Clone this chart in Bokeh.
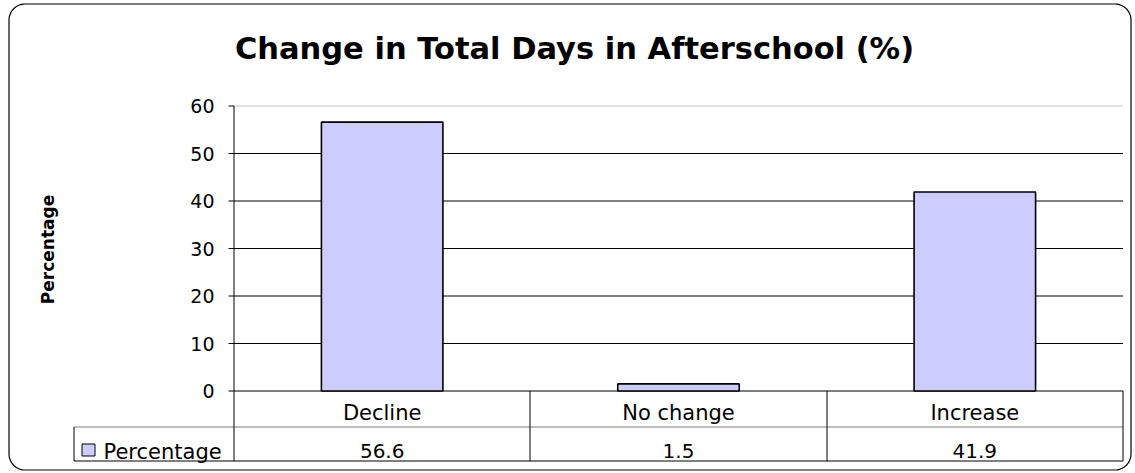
import numpy as np
from bokeh.plotting import figure
from bokeh.models import Range1d
from bokeh.core.properties import value
from bokeh.embed import file_html
from bokeh.resources import INLINE

# ---- data ----
title_text = "Change in Total Days in Afterschool (%)"
series_name = "Percentage"
categories = ["Decline", "No change", "Increase"]
values = [56.6, 1.5, 41.9]
value_labels = ["56.6", "1.5", "41.9"]
y_ticks = [0, 10, 20, 30, 40, 50, 60]

# ---- layout (pixel geometry of the chart area) ----
W, H = 1135, 473
FONT = value("DejaVu Sans")
BAR = "#CCCCFF"
N = len(categories)
PLOT_L, PLOT_R, Y0_PX = 233.5, 1122.5, 390.5
PX_PER_CAT = (PLOT_R - PLOT_L) / N
PX_PER_UNIT = 4.75
ROW1, ROW2 = 426.5, 460.5
TABLE_L = 73.5


def dx(px):
    return (px - PLOT_L) / PX_PER_CAT


def dy(py):
    return (Y0_PX - py) / PX_PER_UNIT


p = figure(width=W, height=H,
           x_range=Range1d(dx(0), dx(W)), y_range=Range1d(dy(H), dy(0)),
           output_backend="svg", toolbar_location=None,
           x_axis_location=None, y_axis_location=None,
           min_border=0, outline_line_color=None,
           background_fill_color="white", border_fill_color="white")
p.grid.visible = False

xs = [i + 0.5 for i in range(N)]
ymax = max(y_ticks)

# horizontal gridlines
grid_ticks = [t for t in y_ticks if t < ymax]
p.segment(x0=[0] * len(grid_ticks), x1=[N] * len(grid_ticks),
          y0=grid_ticks, y1=grid_ticks, line_color="black", line_width=1)
p.segment(x0=[0], x1=[N], y0=[ymax], y1=[ymax], line_color="#D9D9D9", line_width=1.5)

# bars
p.vbar(x=xs, top=values, bottom=0, width=0.41,
       fill_color=BAR, line_color="black", line_width=1.6)

# y axis line, ticks, tick labels
p.segment(x0=[0], x1=[0], y0=[0], y1=[ymax], line_color="black", line_width=1)
p.segment(x0=[dx(PLOT_L - 5.5)] * len(y_ticks), x1=[0] * len(y_ticks),
          y0=y_ticks, y1=y_ticks, line_color="black", line_width=1)
p.text(x=[dx(214)] * len(y_ticks), y=y_ticks, text=[str(t) for t in y_ticks],
       text_align="right", text_baseline="middle", text_font=FONT,
       text_font_size="19px", text_color="black")

# y axis title
p.text(x=[dx(47)], y=[dy(249)], text=[series_name], angle=np.pi / 2,
       text_align="center", text_baseline="middle", text_font=FONT,
       text_font_style="bold", text_font_size="17px", text_color="black")

# chart title
p.text(x=[dx(574)], y=[dy(48)], text=[title_text],
       text_align="center", text_baseline="alphabetic", text_font=FONT,
       text_font_style="bold", text_font_size="30.5px", text_color="black")

# data table: grid lines
seps = [round(PLOT_L + i * PX_PER_CAT - 0.5) + 0.5 for i in range(N + 1)]
p.segment(x0=[dx(TABLE_L)], x1=[dx(PLOT_R)], y0=[dy(ROW1)], y1=[dy(ROW1)],
          line_color="#808080", line_width=1)
p.segment(x0=[dx(TABLE_L)], x1=[dx(PLOT_R)], y0=[dy(ROW2)], y1=[dy(ROW2)],
          line_color="black", line_width=1)
p.segment(x0=[dx(TABLE_L)] + [dx(s) for s in seps],
          x1=[dx(TABLE_L)] + [dx(s) for s in seps],
          y0=[dy(ROW1)] + [0] * len(seps),
          y1=[dy(ROW2)] * (len(seps) + 1),
          line_color="black", line_width=1)

# data table: category row and value row
p.text(x=xs, y=[dy(412.5)] * N, text=categories, text_align="center",
       text_baseline="alphabetic", text_font=FONT, text_font_size="21px",
       text_color="black")
p.text(x=xs, y=[dy(450.7)] * N, text=value_labels, text_align="center",
       text_baseline="alphabetic", text_font=FONT, text_font_size="20px",
       text_color="black")

# data table: legend key + series name
p.quad(left=[dx(81.5)], right=[dx(94.5)], top=[dy(443.5)], bottom=[dy(455.5)],
       fill_color=BAR, line_color="black", line_width=1)
p.text(x=[dx(103)], y=[dy(451)], text=[series_name], text_align="left",
       text_baseline="alphabetic", text_font=FONT, text_font_size="21px",
       text_color="black")

# outer rounded border
L, R, T, B, RAD = 8.5, 1130.5, 3.5, 469.5, 16
bx, by = [], []
for (ccx, ccy, a0) in [(R - RAD, T + RAD, -90), (R - RAD, B - RAD, 0),
                       (L + RAD, B - RAD, 90), (L + RAD, T + RAD, 180)]:
    for a in np.linspace(a0, a0 + 90, 12):
        bx.append(dx(ccx + RAD * np.cos(np.radians(a))))
        by.append(dy(ccy + RAD * np.sin(np.radians(a))))
bx.append(bx[0])
by.append(by[0])
p.line(x=bx, y=by, line_color="black", line_width=1.2)

open("out.html", "w").write(file_html(p, INLINE))
